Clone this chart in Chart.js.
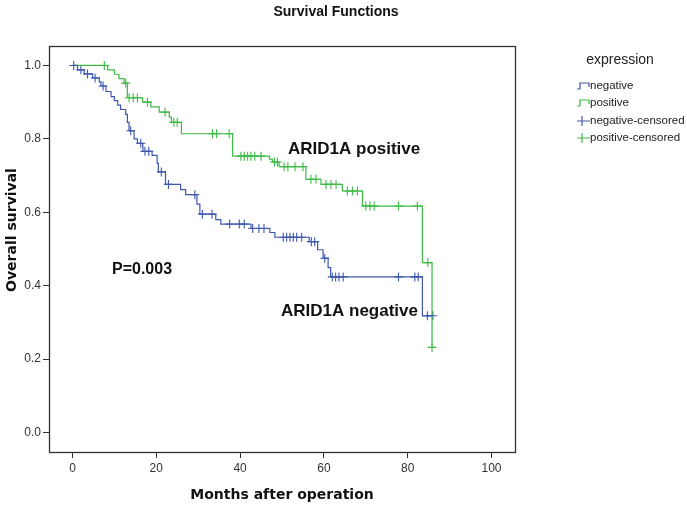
<!DOCTYPE html>
<html><head><meta charset="utf-8">
<script src="https://cdn.jsdelivr.net/npm/chart.js@4.4.1/dist/chart.umd.min.js"></script>
<style>html,body{margin:0;padding:0;background:#fff;}#wrap{width:687px;height:511px;}</style>
</head><body><div id="wrap"><canvas id="c" width="687" height="511"></canvas></div>
<script>
// ---- data ----
const xTicks = [0, 20, 40, 60, 80, 100];
const yTicks = [0.0, 0.2, 0.4, 0.6, 0.8, 1.0];

const negEventTimes = [1.2, 2.8, 4.8, 6.4, 6.8, 8.0, 9.2, 10.0, 10.8, 11.5, 12.7, 13.1, 13.5, 14.7, 15.5, 16.8, 19.0, 20.2, 20.5, 22.2, 25.8, 27.0, 29.7, 30.4, 34.2, 35.4, 42.6, 47.1, 48.3, 56.5, 58.5, 59.8, 61.0, 61.6, 83.5];
const negSurvival   = [0.988, 0.977, 0.966, 0.955, 0.944, 0.929, 0.915, 0.904, 0.892, 0.880, 0.867, 0.845, 0.822, 0.800, 0.788, 0.766, 0.755, 0.733, 0.710, 0.676, 0.662, 0.648, 0.622, 0.595, 0.580, 0.568, 0.556, 0.545, 0.532, 0.520, 0.498, 0.475, 0.449, 0.424, 0.318];
const negCensorTimes = [0.3, 2.0, 3.6, 5.4, 7.3, 13.9, 16.3, 17.3, 18.2, 21.2, 22.9, 29.2, 31.0, 33.3, 37.5, 39.8, 41.0, 43.0, 44.5, 45.7, 50.3, 51.1, 51.9, 52.7, 53.5, 54.7, 57.0, 57.8, 60.2, 62.0, 62.8, 63.6, 64.6, 77.8, 81.7, 82.5, 84.7, 86.0];

const posEventTimes = [8.4, 10.0, 11.1, 12.3, 13.1, 16.7, 18.7, 20.7, 23.1, 23.6, 26.0, 38.2, 47.0, 47.7, 49.3, 55.7, 59.3, 64.4, 69.2, 83.5, 85.8];
const posSurvival   = [0.988, 0.976, 0.964, 0.952, 0.912, 0.900, 0.887, 0.873, 0.859, 0.845, 0.814, 0.753, 0.745, 0.737, 0.724, 0.690, 0.676, 0.658, 0.617, 0.463, 0.232];
const posCensorTimes = [7.6, 12.7, 13.5, 14.5, 15.5, 17.9, 22.1, 24.2, 25.0, 33.4, 34.4, 37.4, 40.2, 41.0, 41.8, 42.6, 43.5, 45.0, 48.2, 48.9, 50.5, 51.4, 53.1, 55.0, 56.9, 58.1, 60.5, 61.7, 62.9, 65.6, 66.8, 68.0, 70.0, 71.0, 72.0, 77.8, 82.3, 84.8, 85.8];

const seriesNames = ['negative', 'positive', 'negative-censored', 'positive-censored'];
const BLUE = '#3E58AC', GREEN = '#3DBB45';

// ---- build step data ----
function survAt(times, surv, t) {
  let s = 1;
  for (let i = 0; i < times.length; i++) if (times[i] <= t) s = surv[i];
  return s;
}
function stepPoints(times, surv, censors) {
  const pts = [{x: 0, y: 1}];
  times.forEach((t, i) => pts.push({x: t, y: surv[i]}));
  const end = Math.max(times[times.length - 1], censors[censors.length - 1]);
  pts.push({x: end, y: surv[surv.length - 1]});
  return pts;
}
function censorPoints(times, surv, censors) {
  return censors.map(t => ({x: t, y: survAt(times, surv, t)}));
}

const overlay = {
  id: 'overlay',
  afterDraw(chart) {
    const ctx = chart.ctx, a = chart.chartArea;
    ctx.save();
    // frame
    ctx.strokeStyle = '#333'; ctx.lineWidth = 1.3;
    ctx.strokeRect(a.left + 0.5, a.top + 0.5, a.right - a.left, a.bottom - a.top);
    // title
    ctx.fillStyle = '#111';
    ctx.textAlign = 'center'; ctx.textBaseline = 'middle';
    ctx.font = 'bold 14px "Liberation Sans", Arial, sans-serif';
    ctx.fillText('Survival Functions', 336, 12);
    // axis titles
    ctx.font = 'bold 14px "DejaVu Sans", sans-serif';
    ctx.fillText('Months after operation', (a.left + a.right) / 2, 495);
    ctx.save();
    ctx.translate(12, 230); ctx.rotate(-Math.PI / 2);
    ctx.fillText('Overall survival', 0, 0);
    ctx.restore();
    // annotations
    ctx.textAlign = 'left';
    ctx.font = 'bold 17px "Liberation Sans", Arial, sans-serif';
    ctx.fillText('ARID1A positive', 288, 149);
    ctx.fillText('ARID1A negative', 281, 311);
    ctx.font = 'bold 16px "Liberation Sans", Arial, sans-serif';
    ctx.fillText('P=0.003', 112, 270);
    // legend
    ctx.font = '14px "Liberation Sans", Arial, sans-serif';
    ctx.textAlign = 'center';
    ctx.fillStyle = '#222';
    ctx.fillText('expression', 620, 60);
    ctx.textAlign = 'left';
    ctx.font = '11.5px "Liberation Sans", Arial, sans-serif';
    const items = [[seriesNames[0], BLUE, 'step'], [seriesNames[1], GREEN, 'step'], [seriesNames[2], BLUE, 'cross'], [seriesNames[3], GREEN, 'cross']];
    const ys = [86, 103, 121, 138];
    items.forEach((it, i) => {
      const y = ys[i];
      ctx.strokeStyle = it[1]; ctx.lineWidth = 1.2;
      ctx.beginPath();
      if (it[2] === 'step') {
        ctx.moveTo(577, y + 3); ctx.lineTo(580, y + 3); ctx.lineTo(580, y - 3); ctx.lineTo(589, y - 3); ctx.lineTo(589, y + 1);
      } else {
        ctx.moveTo(577, y); ctx.lineTo(590, y); ctx.moveTo(582, y - 5); ctx.lineTo(582, y + 5);
      }
      ctx.stroke();
      ctx.fillStyle = '#222';
      ctx.fillText(it[0], 590, y);
    });
    ctx.restore();
  }
};

new Chart(document.getElementById('c'), {
  type: 'scatter',
  data: {
    datasets: [
      {label: seriesNames[0], data: stepPoints(negEventTimes, negSurvival, negCensorTimes), showLine: true, stepped: 'before', borderColor: BLUE, borderWidth: 1.2, pointRadius: 0, fill: false},
      {label: seriesNames[1], data: stepPoints(posEventTimes, posSurvival, posCensorTimes), showLine: true, stepped: 'before', borderColor: GREEN, borderWidth: 1.2, pointRadius: 0, fill: false},
      {label: seriesNames[2], data: censorPoints(negEventTimes, negSurvival, negCensorTimes), showLine: false, pointStyle: 'cross', pointRadius: 4.5, borderColor: BLUE, borderWidth: 1.1},
      {label: seriesNames[3], data: censorPoints(posEventTimes, posSurvival, posCensorTimes), showLine: false, pointStyle: 'cross', pointRadius: 4.5, borderColor: GREEN, borderWidth: 1.1}
    ]
  },
  options: {
    responsive: false, animation: false, devicePixelRatio: 1,
    layout: {padding: {left: 0, right: 172, top: 46, bottom: 0}},
    plugins: {legend: {display: false}, title: {display: false}, tooltip: {enabled: false}},
    scales: {
      x: {
        type: 'linear', min: -5.6, max: 105.6,
        afterBuildTicks: s => { s.ticks = xTicks.map(v => ({value: v})); },
        afterFit: s => { s.height = 59; },
        grid: {drawOnChartArea: false, drawTicks: true, tickLength: 6, color: '#333'},
        border: {display: false},
        ticks: {font: {family: 'Liberation Sans', size: 12}, color: '#333', padding: 3, maxRotation: 0, callback: v => String(v)}
      },
      y: {
        type: 'linear', min: -0.053, max: 1.053,
        afterBuildTicks: s => { s.ticks = yTicks.map(v => ({value: v})); },
        afterFit: s => { s.width = 49; },
        grid: {drawOnChartArea: false, drawTicks: true, tickLength: 6, color: '#333'},
        border: {display: false},
        ticks: {font: {family: 'Liberation Sans', size: 12}, color: '#333', padding: 2, callback: v => Number(v).toFixed(1)}
      }
    }
  },
  plugins: [overlay]
});
</script></body></html>
